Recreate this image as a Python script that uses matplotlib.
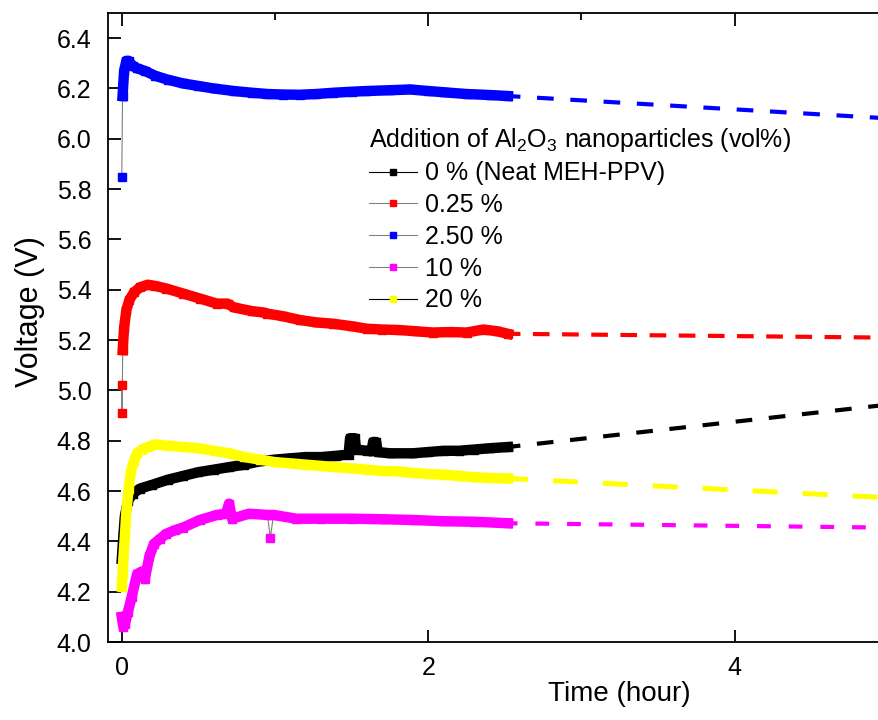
import numpy as np
import matplotlib.pyplot as plt
from matplotlib.lines import Line2D
from matplotlib.ticker import FormatStrFormatter

plt.rcParams['font.family'] = ['Liberation Sans', 'DejaVu Sans']
plt.rcParams['mathtext.default'] = 'regular'

labels = ['0 % (Neat MEH-PPV)', '0.25 %', '2.50 %', '10 %', '20 %']

# measured part (hours, volts)
t_neat = [0, 0.01, 0.02, 0.04, 0.07, 0.12, 0.2, 0.3, 0.4, 0.5, 0.6, 0.7, 0.8, 0.9, 1.0, 1.1, 1.2, 1.3, 1.4,
          1.48, 1.49, 1.52, 1.53, 1.6, 1.63, 1.64, 1.66, 1.67, 1.75, 1.9, 2.0, 2.1, 2.2, 2.3, 2.4, 2.52]
v_neat = [4.33, 4.42, 4.50, 4.56, 4.59, 4.61, 4.625, 4.645, 4.66, 4.675, 4.685, 4.695, 4.705, 4.718, 4.725,
          4.73, 4.735, 4.735, 4.74, 4.745, 4.81, 4.81, 4.765, 4.76, 4.758, 4.795, 4.795, 4.755, 4.75, 4.75,
          4.755, 4.76, 4.76, 4.765, 4.77, 4.775]

t_025 = [0, 0.002, 0.006, 0.015, 0.03, 0.05, 0.08, 0.12, 0.17, 0.22, 0.29, 0.4, 0.51, 0.62, 0.69, 0.73,
         0.85, 0.92, 0.95, 1.05, 1.16, 1.27, 1.38, 1.5, 1.6, 1.7, 1.81, 1.92, 2.03, 2.15, 2.25, 2.36, 2.45, 2.52]
v_025 = [5.02, 4.91, 5.16, 5.25, 5.32, 5.36, 5.39, 5.41, 5.42, 5.415, 5.405, 5.385, 5.365, 5.345, 5.345,
         5.33, 5.315, 5.31, 5.305, 5.295, 5.28, 5.27, 5.265, 5.255, 5.245, 5.242, 5.24, 5.235, 5.23, 5.232,
         5.23, 5.242, 5.235, 5.225]

t_250 = [0, 0.005, 0.015, 0.03, 0.045, 0.07, 0.1, 0.15, 0.22, 0.3, 0.4, 0.5, 0.6, 0.73, 0.85, 0.95, 1.05,
         1.16, 1.27, 1.38, 1.5, 1.6, 1.75, 1.88, 2.0, 2.1, 2.25, 2.4, 2.52]
v_250 = [5.85, 6.17, 6.27, 6.31, 6.31, 6.29, 6.28, 6.27, 6.25, 6.235, 6.22, 6.21, 6.20, 6.19, 6.183, 6.178,
         6.176, 6.175, 6.178, 6.183, 6.187, 6.19, 6.193, 6.196, 6.19, 6.185, 6.178, 6.174, 6.17]

t_10 = [0, 0.01, 0.02, 0.04, 0.065, 0.1, 0.13, 0.15, 0.18, 0.21, 0.25, 0.29, 0.35, 0.4, 0.51, 0.62, 0.68,
        0.7, 0.72, 0.83, 0.95, 0.97, 0.99, 1.14, 1.3, 1.5, 1.7, 1.9, 2.1, 2.3, 2.52]
v_10 = [4.10, 4.06, 4.07, 4.12, 4.18, 4.27, 4.28, 4.25, 4.34, 4.39, 4.41, 4.43, 4.445, 4.455, 4.485, 4.505,
        4.51, 4.55, 4.49, 4.51, 4.505, 4.415, 4.505, 4.49, 4.49, 4.49, 4.488, 4.485, 4.48, 4.478, 4.472]

t_20 = [0, 0.005, 0.01, 0.02, 0.03, 0.045, 0.06, 0.08, 0.1, 0.13, 0.17, 0.22, 0.3, 0.4, 0.5, 0.6, 0.7, 0.8,
        0.9, 1.0, 1.1, 1.2, 1.3, 1.4, 1.5, 1.6, 1.7, 1.8, 1.9, 2.0, 2.1, 2.2, 2.3, 2.4, 2.52]
v_20 = [4.22, 4.27, 4.33, 4.42, 4.52, 4.61, 4.68, 4.72, 4.75, 4.765, 4.775, 4.785, 4.78, 4.775, 4.77, 4.76,
        4.75, 4.735, 4.725, 4.715, 4.71, 4.705, 4.70, 4.695, 4.69, 4.685, 4.68, 4.678, 4.672, 4.668, 4.665,
        4.66, 4.655, 4.652, 4.65]

# dashed extrapolation
t_ext = [2.52, 4.95]
ext_neat = [4.775, 4.94]
ext_025 = [5.225, 5.21]
ext_250 = [6.17, 6.083]
ext_10 = [4.472, 4.455]
ext_20 = [4.65, 4.575]

fig = plt.figure(figsize=(8.79, 7.2), dpi=100)
# the frame runs past the right edge of the picture
ax = fig.add_axes([108 / 879, 78 / 720, 1022 / 879, 629 / 720])

series = [
    (t_neat, v_neat, ext_neat, 'black', 'black', [], (1.0, (4, 4)), 3.0),
    (t_025, v_025, ext_025, 'red', 'gray', [0, 1], (1.0, (4, 3)), 3.0),
    (t_250, v_250, ext_250, 'blue', 'gray', [0], (1.0, (4, 4)), 3.0),
    (t_10, v_10, ext_10, 'magenta', 'gray', [21], (1.0, (3.3, 4.3)), 3.0),
    (t_20, v_20, ext_20, 'yellow', 'black', [], (1.0, (5, 5)), 3.6),
]

handles = []
for i, (t, v, ext, col, conn, skip, dash, dlw) in enumerate(series):
    t = np.array(t)
    v = np.array(v)
    keep = np.ones(len(t), bool)
    keep[skip] = False
    z = 3 + i
    ax.plot(t_ext, ext, color=col, lw=dlw, linestyle=dash, zorder=2)
    ax.plot(t, v, color=conn, lw=0.8, zorder=z)
    ax.plot(t[keep], v[keep], color=col, lw=7.5, solid_capstyle='projecting', solid_joinstyle='round', zorder=z + 0.1)
    ax.plot(t, v, ls='none', marker='s', ms=6, mfc=col, mec=col, zorder=z + 0.2)
    handles.append(Line2D([], [], color=conn, lw=0.8, marker='s', ms=4.5, mfc=col, mec=col))

ax.set_xlim(-0.09, 6.58)
ax.set_ylim(4.0, 6.5)
ax.set_xticks([0, 2, 4])
ax.set_xticks([1, 3], minor=True)
ax.set_yticks(np.arange(4.0, 6.41, 0.2))
ax.yaxis.set_major_formatter(FormatStrFormatter('%.1f'))
ax.tick_params(which='major', direction='in', length=9, width=1.3, labelsize=18, top=True)
ax.tick_params(axis='x', which='major', pad=10)
ax.tick_params(axis='y', which='major', pad=12)
ax.tick_params(which='minor', direction='in', length=5, width=1.3, bottom=False, top=True)
for s in ax.spines.values():
    s.set_linewidth(1.3)

ax.set_xlabel('Time (hour)', fontsize=20, labelpad=1)
ax.set_ylabel('Voltage (V)', fontsize=22)
ax.yaxis.set_label_coords(-0.062, 0.526)

leg = ax.legend(handles, labels, title='Addition of Al$_2$O$_3$ nanoparticles (vol%)', fontsize=18,
                title_fontsize=18, frameon=False, loc='upper left', alignment='left',
                bbox_to_anchor=(357 / 879, 1 - 113 / 720), bbox_transform=fig.transFigure,
                borderpad=0, handlelength=1.9, handletextpad=0.32, labelspacing=0.31)

plt.savefig('out.png', dpi=100)
